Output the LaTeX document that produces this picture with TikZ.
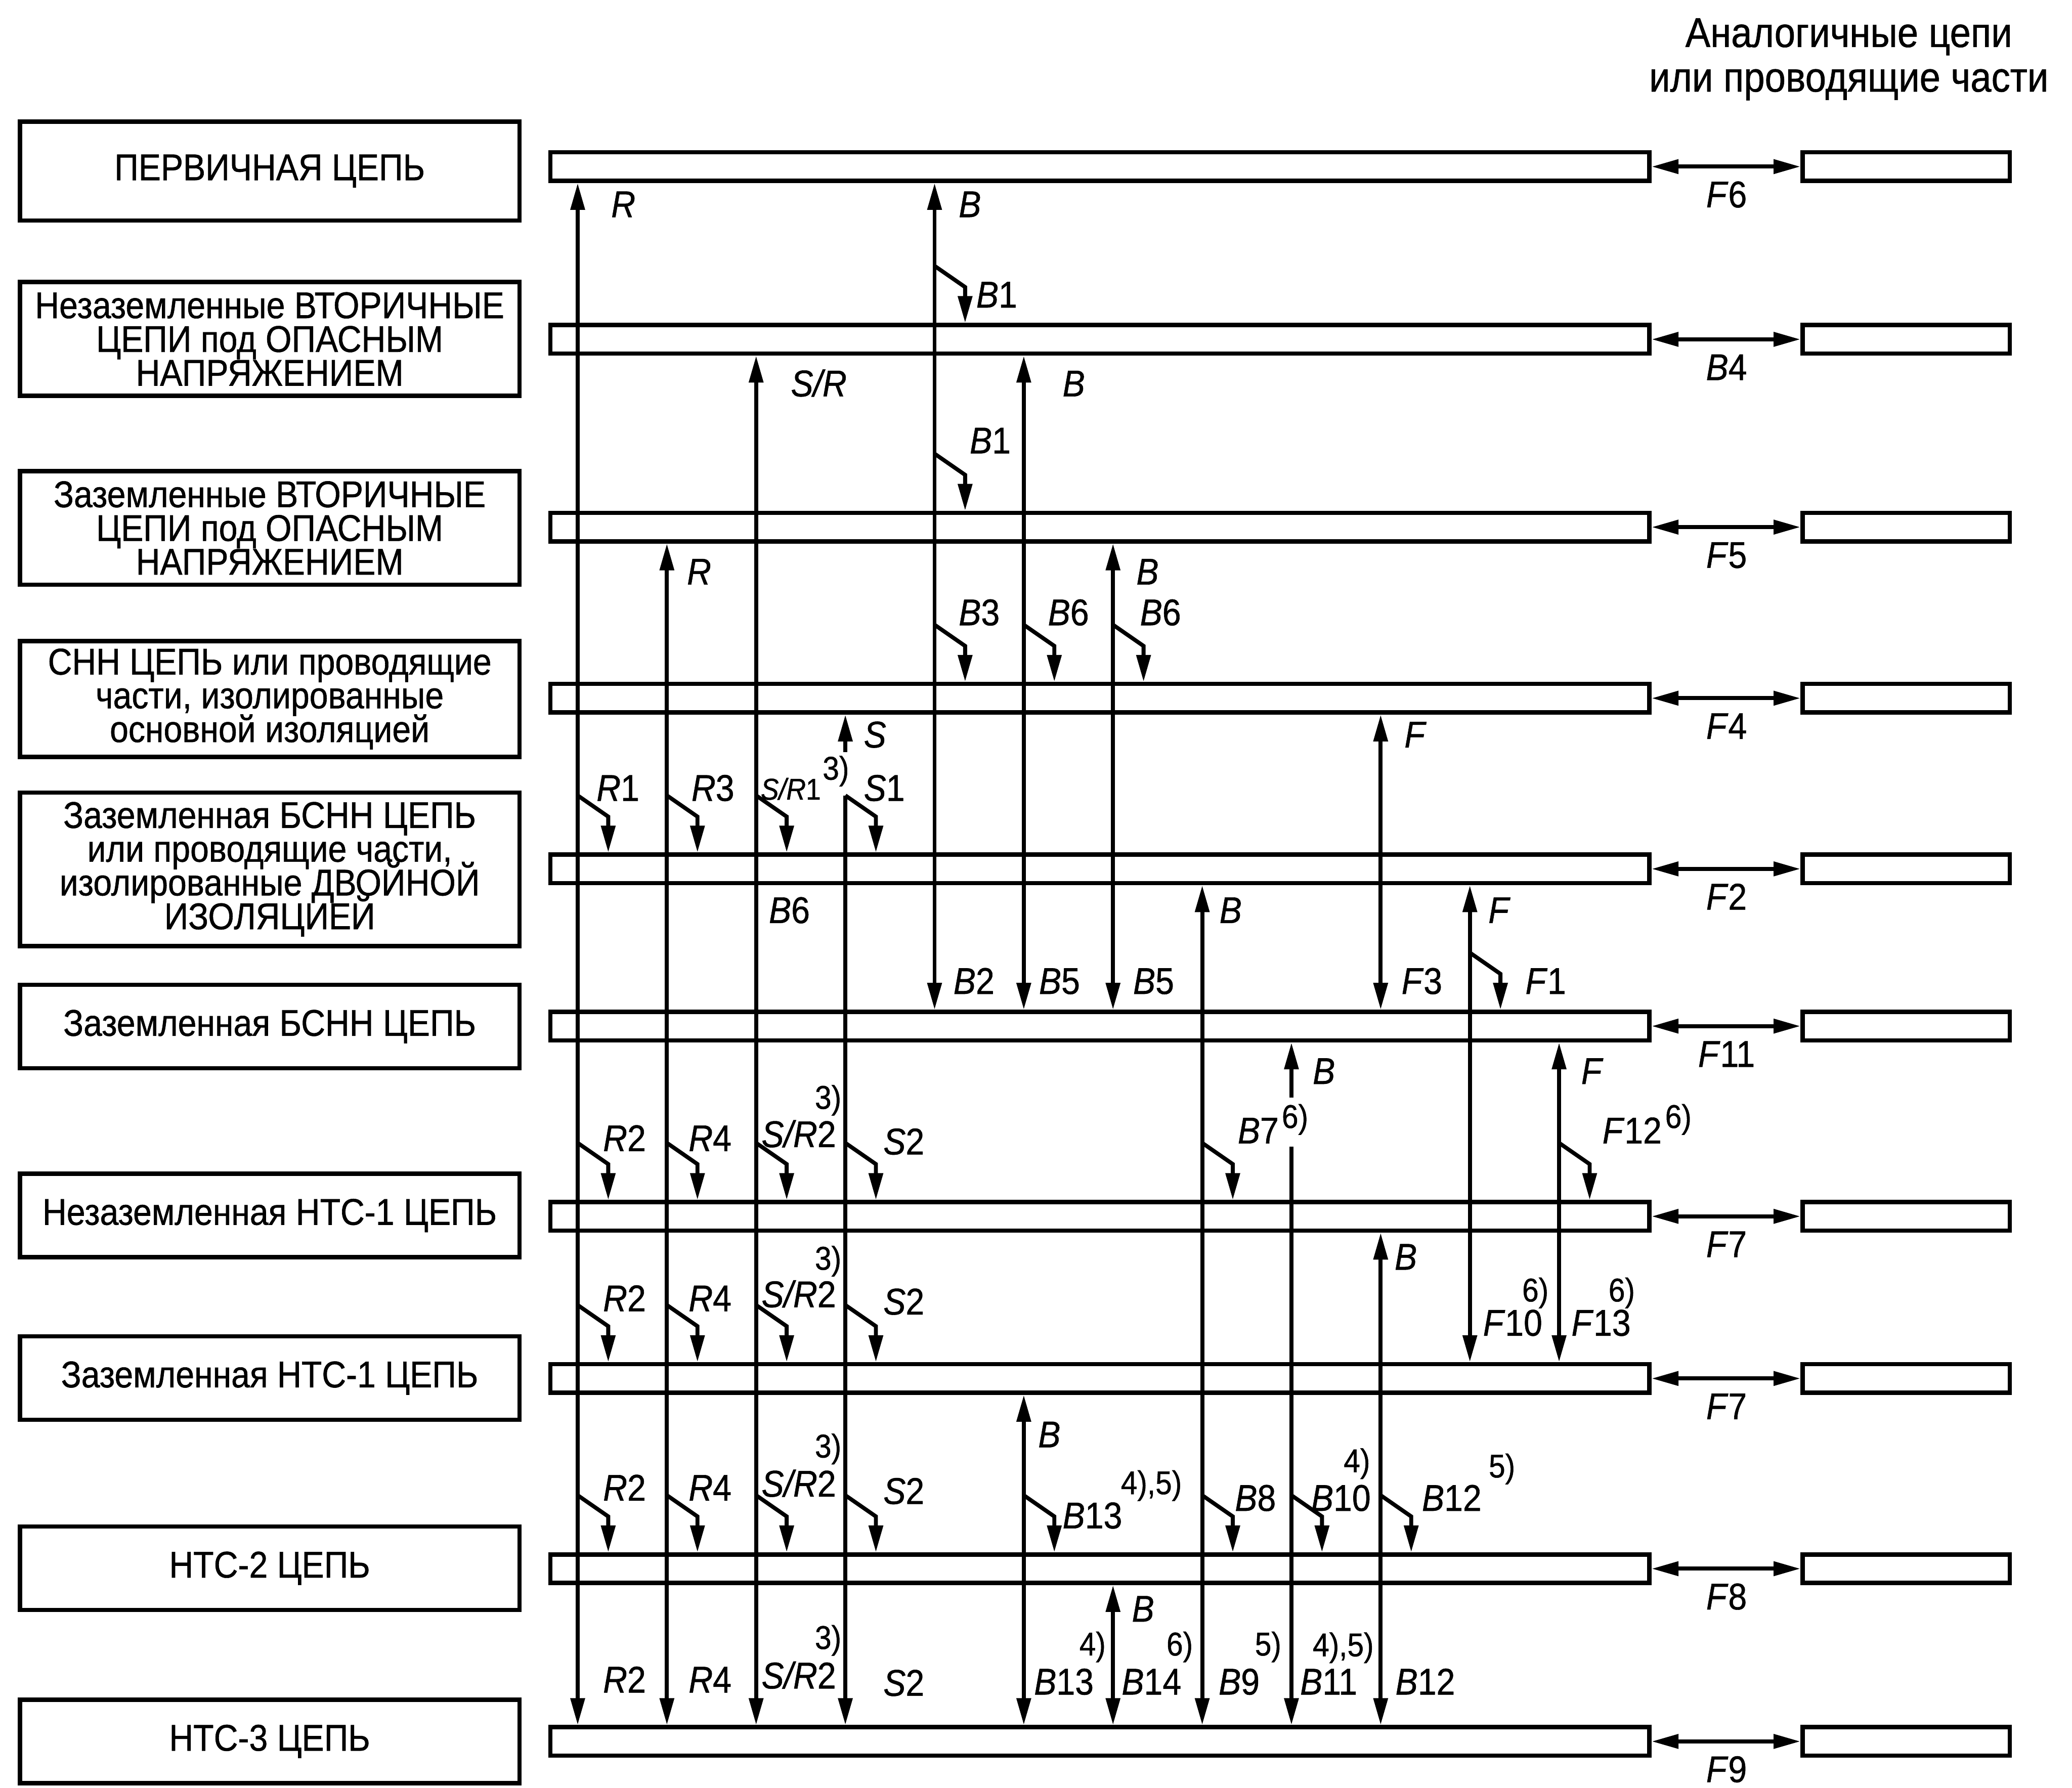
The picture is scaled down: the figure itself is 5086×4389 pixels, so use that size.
\documentclass[tikz,border=0pt]{standalone}
\usepackage{fontspec}
\setmainfont{Liberation Sans}[FakeStretch=0.9, FakeBold=0.8]
\usetikzlibrary{arrows.meta, calc}

\newcommand\ilab[2]{\textit{#1}#2}
\newcommand\branch[2]{\draw[ar] ($(#1 |- r#2.north)+(0,-140)$) -- ++(75,52) -- ($(#1 |- r#2.north)+(75,0)$);}

\begin{document}
\begin{tikzpicture}[
  x=0.005cm, y=-0.005cm,
  font={\fontsize{13}{11.8}\selectfont\lineskiplimit=-20pt},
  lbox/.style={draw, line width=1.5pt, minimum width=6.135cm, align=center, inner sep=0pt},
  rail/.style={draw, line width=1.5pt, minimum width=13.5cm, minimum height=0.35cm, inner sep=0pt},
  abox/.style={draw, line width=1.5pt, minimum width=2.545cm, minimum height=0.35cm, inner sep=0pt},
  ar/.style={-{Triangle[length=3.3mm, width=1.7mm]}, line width=1.4pt},
  arr/.style={{Triangle[length=3.3mm, width=1.7mm]}-{Triangle[length=3.3mm, width=1.7mm]}, line width=1.4pt},
  lb/.style={anchor=base west, inner sep=0pt},
  nt/.style={anchor=base west, inner sep=0pt, font=\fontsize{11.5}{11}\selectfont}
]
\useasboundingbox (0,0) rectangle (5086,4389);

% circuit boxes on the left
\node[lbox, minimum height=1.215cm] (box1) at (662,420) {ПЕРВИЧНАЯ ЦЕПЬ};
\node[lbox, minimum height=1.40cm] (box2) at (662,832) {Незаземленные ВТОРИЧНЫЕ\\ЦЕПИ под ОПАСНЫМ\\НАПРЯЖЕНИЕМ};
\node[lbox, minimum height=1.395cm] (box3) at (662,1296) {Заземленные ВТОРИЧНЫЕ\\ЦЕПИ под ОПАСНЫМ\\НАПРЯЖЕНИЕМ};
\node[lbox, minimum height=1.425cm] (box4) at (662,1716) {СНН ЦЕПЬ или проводящие\\части, изолированные\\основной изоляцией};
\node[lbox, minimum height=1.885cm] (box5) at (662,2134) {Заземленная БСНН ЦЕПЬ\\или проводящие части,\\изолированные ДВОЙНОЙ\\ИЗОЛЯЦИЕЙ};
\node[lbox, minimum height=1.025cm] (box6) at (662,2520) {Заземленная БСНН ЦЕПЬ};
\node[lbox, minimum height=1.025cm] (box7) at (662,2984) {Незаземленная НТС-1 ЦЕПЬ};
\node[lbox, minimum height=1.025cm] (box8) at (662,3383) {Заземленная НТС-1 ЦЕПЬ};
\node[lbox, minimum height=1.025cm] (box9) at (662,3850) {НТС-2 ЦЕПЬ};
\node[lbox, minimum height=1.025cm] (box10) at (662,4275) {НТС-3 ЦЕПЬ};

\node[align=center, anchor=north, font=\fontsize{14.6}{15.6}\selectfont] (head) at (4538,20) {Аналогичные цепи\\или проводящие части};

% rails, similar circuits and their links
\foreach \i/\y/\l/\n in {1/409/F/6, 2/833/B/4, 3/1294/F/5, 4/1714/F/4, 5/2133/F/2,
    6/2519/F/11, 7/2986/F/7, 8/3384/F/7, 9/3851/F/8, 10/4275/F/9} {
  \node[rail] (r\i) at (2700,\y) {};
  \node[abox] (sim\i) at (4679,\y) {};
  \draw[arr] (r\i.east) -- (sim\i.west);
  \node[anchor=base, inner sep=0pt] (f\i) at (4238,\y+100) {\ilab{\l}{\n}};
}

\foreach \k in {1,...,12} \coordinate (c\k) at ({1418+219*(\k-1)},0);

% main insulation paths
\draw[arr] (c1 |- r1.south) -- (c1 |- r10.north);
\draw[arr] (c2 |- r3.south) -- (c2 |- r10.north);
\draw[arr] (c3 |- r2.south) -- (c3 |- r10.north);
\draw[ar] ($(c4 |- r4.south)+(0,92)$) -- (c4 |- r4.south);
\draw[ar] ($(c4 |- r5.north)+(0,-140)$) -- (c4 |- r10.north);
\draw[arr] (c5 |- r1.south) -- (c5 |- r6.north);
\draw[arr] (c6 |- r2.south) -- (c6 |- r6.north);
\draw[arr] (c7 |- r3.south) -- (c7 |- r6.north);
\draw[arr] (c8 |- r5.south) -- (c8 |- r10.north);
\draw[ar] ($(c9 |- r6.south)+(0,135)$) -- (c9 |- r6.south);
\draw[ar] ($(c9 |- r7.north)+(0,-131)$) -- (c9 |- r10.north);
\draw[arr] (c10 |- r4.south) -- (c10 |- r6.north);
\draw[arr] (c10 |- r7.south) -- (c10 |- r10.north);
\draw[arr] (c11 |- r5.south) -- (c11 |- r8.north);
\draw[arr] (c12 |- r6.south) -- (c12 |- r8.north);
\draw[arr] (c6 |- r8.south) -- (c6 |- r10.north);
\draw[arr] (c7 |- r9.south) -- (c7 |- r10.north);

% branches
\branch{c5}{2}
\branch{c5}{3}
\branch{c5}{4} \branch{c6}{4} \branch{c7}{4}
\branch{c11}{6}
\foreach \j in {5,7,8,9} {\branch{c1}{\j} \branch{c2}{\j} \branch{c3}{\j} \branch{c4}{\j}}
\branch{c8}{7} \branch{c12}{7}
\branch{c6}{9} \branch{c8}{9} \branch{c9}{9} \branch{c10}{9}

% labels
\node[lb] (la1) at (1499,533) {\textit{R}};
\node[lb] (la2) at (2352,533) {\textit{B}};
\node[lb] (la3) at (2395,755) {\ilab{B}{1}};
\node[lb] (lb1) at (1940,973) {\textit{S/R}};
\node[lb] (lb2) at (2607,973) {\textit{B}};
\node[lb] (lb3) at (2379,1113) {\ilab{B}{1}};
\node[lb] (lc1) at (1685,1435) {\textit{R}};
\node[lb] (lc2) at (2788,1435) {\textit{B}};
\node[lb] (lc3) at (2352,1535) {\ilab{B}{3}};
\node[lb] (lc4) at (2571,1535) {\ilab{B}{6}};
\node[lb] (lc5) at (2797,1535) {\ilab{B}{6}};
\node[lb] (ld1) at (2119,1835) {\textit{S}};
\node[lb] (ld2) at (3446,1835) {\textit{F}};
\node[lb] (ld3) at (1463,1966) {\ilab{R}{1}};
\node[lb] (ld4) at (1696,1966) {\ilab{R}{3}};
\node[lb, font=\fontsize{10.5}{10}\selectfont] (ld5) at (1866,1963) {\ilab{S/R}{1}};
\node[nt] (nd5) at (2018,1914) {3)};
\node[lb] (ld6) at (2119,1966) {\ilab{S}{1}};
\node[lb] (le1) at (1886,2266) {\ilab{B}{6}};
\node[lb] (le2) at (2992,2266) {\textit{B}};
\node[lb] (le3) at (3652,2266) {\textit{F}};
\node[lb] (le4) at (2339,2440) {\ilab{B}{2}};
\node[lb] (le5) at (2549,2440) {\ilab{B}{5}};
\node[lb] (le6) at (2780,2440) {\ilab{B}{5}};
\node[lb] (le7) at (3439,2440) {\ilab{F}{3}};
\node[lb] (le8) at (3743,2440) {\ilab{F}{1}};
\node[lb] (lf1) at (3221,2661) {\textit{B}};
\node[lb] (lf2) at (3880,2661) {\textit{F}};
\foreach \r/\y/\z in {f/2826/2722, g/3219/3117, h/3684/3578, i/4155/4048} {
  \node[lb] (s\r1) at (1479,\y) {\ilab{R}{2}};
  \node[lb] (s\r2) at (1689,\y) {\ilab{R}{4}};
  \node[lb] (s\r3) at (1868,\y-10) {\ilab{S/R}{2}};
  \node[nt] (t\r3) at (1999,\z) {3)};
  \node[lb] (s\r4) at (2167,\y+8) {\ilab{S}{2}};
}
\node[lb] (lf7) at (3037,2807) {\ilab{B}{7}};
\node[nt] (nf7) at (3145,2769) {6)};
\node[lb] (lf8) at (3932,2807) {\ilab{F}{12}};
\node[nt] (nf8) at (4086,2769) {6)};
\node[lb] (lg1) at (3422,3117) {\textit{B}};
\node[lb] (lg7) at (3639,3279) {\ilab{F}{10}};
\node[nt] (ng7) at (3735,3195) {6)};
\node[lb] (lg8) at (3856,3279) {\ilab{F}{13}};
\node[nt] (ng8) at (3947,3195) {6)};
\node[lb] (lh1) at (2547,3553) {\textit{B}};
\node[lb] (lh6) at (2607,3752) {\ilab{B}{13}};
\node[nt] (nh6) at (2750,3668) {4),5)};
\node[lb] (lh7) at (3030,3709) {\ilab{B}{8}};
\node[lb] (lh8) at (3217,3709) {\ilab{B}{10}};
\node[nt] (nh8) at (3297,3614) {4)};
\node[lb] (lh9) at (3489,3709) {\ilab{B}{12}};
\node[nt] (nh9) at (3653,3627) {5)};
\node[lb] (li1) at (2777,3981) {\textit{B}};
\node[lb] (li6) at (2537,4160) {\ilab{B}{13}};
\node[nt] (ni6) at (2648,4064) {4)};
\node[lb] (li7) at (2752,4160) {\ilab{B}{14}};
\node[nt] (ni7) at (2862,4064) {6)};
\node[lb] (li8) at (2990,4160) {\ilab{B}{9}};
\node[nt] (ni8) at (3079,4064) {5)};
\node[lb] (li9) at (3190,4160) {\ilab{B}{11}};
\node[nt] (ni9) at (3221,4066) {4),5)};
\node[lb] (li10) at (3424,4160) {\ilab{B}{12}};
\end{tikzpicture}
\end{document}
